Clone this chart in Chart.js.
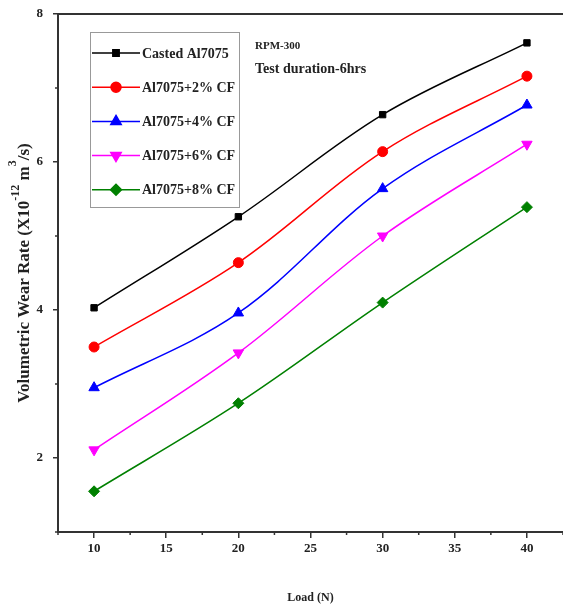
<!DOCTYPE html>
<html>
<head>
<meta charset="utf-8">
<script src="https://cdn.jsdelivr.net/npm/chart.js@4.4.1/dist/chart.umd.min.js"></script>
<style>
  html, body { margin: 0; padding: 0; background: #fff; }
  #wrap { width: 563px; height: 609px; }
</style>
</head>
<body>
<div id="wrap"><canvas id="wearChart" width="563" height="609"></canvas></div>
<script>
// ---- data ----
const loads = [10, 20, 30, 40];
const casted = [4.03, 5.26, 6.64, 7.61];
const cf2 = [3.50, 4.64, 6.14, 7.16];
const cf4 = [2.95, 3.96, 5.64, 6.77];
const cf6 = [2.11, 3.42, 5.00, 6.24];
const cf8 = [1.55, 2.74, 4.10, 5.39];
const seriesNames = ["Casted Al7075", "Al7075+2% CF", "Al7075+4% CF", "Al7075+6% CF", "Al7075+8% CF"];
const notes = ["RPM-300", "Test duration-6hrs"];
const xTitle = "Load (N)";

const FONT = "'Liberation Serif', 'Times New Roman', serif";

const seriesStyle = [
  { color: "#000000", point: "rect", radius: 4.5, rot: 0 },
  { color: "#ff0000", point: "circle", radius: 5, rot: 0 },
  { color: "#0000ff", point: "triangle", radius: 6, rot: 0 },
  { color: "#ff00ff", point: "triangle", radius: 6, rot: 180 },
  { color: "#008000", point: "rectRot", radius: 5.5, rot: 0 },
];

const seriesValues = [casted, cf2, cf4, cf6, cf8];

const datasets = seriesValues.map((vals, i) => ({
  label: seriesNames[i],
  data: loads.map((x, j) => ({ x: x, y: vals[j] })),
  borderColor: seriesStyle[i].color,
  backgroundColor: seriesStyle[i].color,
  borderWidth: 1.5,
  pointStyle: seriesStyle[i].point,
  pointRadius: seriesStyle[i].radius,
  pointRotation: seriesStyle[i].rot,
  pointBorderWidth: 1,
  tension: 0.35,
}));

// major ticks get drawn by the library, minor ones here (shorter)
const isMinor = (axis, v) => (axis === "x" ? v % 5 !== 0 : v % 2 !== 0);

const decorations = {
  id: "decorations",
  afterDraw(chart) {
    const ctx = chart.ctx;
    const area = chart.chartArea;
    ctx.save();

    // top frame line
    ctx.strokeStyle = "#333";
    ctx.lineWidth = 2;
    ctx.beginPath();
    ctx.moveTo(area.left, area.top);
    ctx.lineTo(area.right, area.top);
    ctx.stroke();

    // minor ticks
    ctx.lineWidth = 1.5;
    chart.scales.x.ticks.forEach((t) => {
      if (!isMinor("x", t.value)) return;
      const px = chart.scales.x.getPixelForValue(t.value);
      ctx.beginPath();
      ctx.moveTo(px, area.bottom);
      ctx.lineTo(px, area.bottom + 3);
      ctx.stroke();
    });
    chart.scales.y.ticks.forEach((t) => {
      if (!isMinor("y", t.value)) return;
      const py = chart.scales.y.getPixelForValue(t.value);
      ctx.beginPath();
      ctx.moveTo(area.left, py);
      ctx.lineTo(area.left - 3, py);
      ctx.stroke();
    });

    // legend
    const lx = 90, ly = 32, lw = 149, lh = 175, step = 34.2;
    ctx.strokeStyle = "#999";
    ctx.lineWidth = 1;
    ctx.strokeRect(lx + 0.5, ly + 0.5, lw, lh);
    ctx.font = "bold 14px " + FONT;
    ctx.textBaseline = "middle";
    ctx.textAlign = "left";
    chart.data.datasets.forEach((ds, i) => {
      const y = ly + 21 + i * step;
      ctx.strokeStyle = ds.borderColor;
      ctx.lineWidth = 1.5;
      ctx.beginPath();
      ctx.moveTo(92, y);
      ctx.lineTo(140, y);
      ctx.stroke();
      ctx.fillStyle = ds.backgroundColor;
      ctx.strokeStyle = ds.borderColor;
      Chart.helpers.drawPoint(ctx, {
        pointStyle: ds.pointStyle,
        radius: ds.pointRadius,
        rotation: ds.pointRotation,
        borderWidth: 1,
      }, 116, y);
      ctx.fillStyle = "#222";
      ctx.fillText(ds.label, 142, y + 1);
    });

    // notes
    ctx.fillStyle = "#222";
    ctx.font = "bold 11px " + FONT;
    ctx.fillText(notes[0], 255, 46);
    ctx.font = "bold 14px " + FONT;
    ctx.fillText(notes[1], 255, 69);

    // y axis title with superscripts
    const big = "bold 17px " + FONT;
    const small = "bold 12px " + FONT;
    const parts = [
      { t: "Volumetric Wear Rate (X10", f: big, dy: 0 },
      { t: "-12", f: small, dy: -10 },
      { t: " m", f: big, dy: 0 },
      { t: "3", f: small, dy: -13 },
      { t: "/s)", f: big, dy: 0 },
    ];
    let total = 0;
    parts.forEach((p) => { ctx.font = p.f; p.w = ctx.measureText(p.t).width; total += p.w; });
    ctx.translate(29, 273);
    ctx.rotate(-Math.PI / 2);
    ctx.textBaseline = "alphabetic";
    let x = -total / 2;
    parts.forEach((p) => {
      ctx.font = p.f;
      ctx.fillText(p.t, x, p.dy);
      x += p.w;
    });
    ctx.restore();
  },
};

new Chart(document.getElementById("wearChart"), {
  type: "line",
  data: { datasets: datasets },
  options: {
    responsive: false,
    animation: false,
    layout: { autoPadding: false, padding: { top: 14, right: 0, left: 0, bottom: 0 } },
    plugins: {
      legend: { display: false },
      tooltip: { enabled: false },
    },
    scales: {
      x: {
        type: "linear",
        min: 7.5,
        max: 42.5,
        ticks: {
          stepSize: 2.5,
          autoSkip: false,
          maxRotation: 0,
          padding: 3,
          color: "#222",
          font: { family: FONT, size: 13, weight: "bold" },
          callback: (v) => (isMinor("x", v) ? "" : v),
        },
        grid: {
          drawOnChartArea: false,
          drawTicks: true,
          tickLength: 6,
          lineWidth: 1.5,
          tickColor: (c) => (c.tick && isMinor("x", c.tick.value) ? "rgba(0,0,0,0)" : "#333"),
        },
        border: { display: true, color: "#333", width: 2 },
        title: {
          display: true,
          text: xTitle,
          color: "#222",
          font: { family: FONT, size: 12, weight: "bold" },
          padding: { top: 30 },
        },
        afterFit: (scale) => {
          scale.height = 77;
          scale.paddingLeft = 0;
          scale.paddingRight = 0;
        },
      },
      y: {
        min: 1,
        max: 8,
        ticks: {
          stepSize: 1,
          autoSkip: false,
          padding: 10,
          color: "#222",
          font: { family: FONT, size: 13, weight: "bold" },
          callback: (v) => (isMinor("y", v) ? "" : v),
        },
        grid: {
          drawOnChartArea: false,
          drawTicks: true,
          tickLength: 5,
          lineWidth: 1.5,
          tickColor: (c) => (c.tick && isMinor("y", c.tick.value) ? "rgba(0,0,0,0)" : "#333"),
        },
        border: { display: true, color: "#333", width: 2 },
        afterFit: (scale) => {
          scale.width = 58;
          scale.paddingTop = 0;
          scale.paddingBottom = 0;
        },
      },
    },
  },
  plugins: [decorations],
});
</script>
</body>
</html>
